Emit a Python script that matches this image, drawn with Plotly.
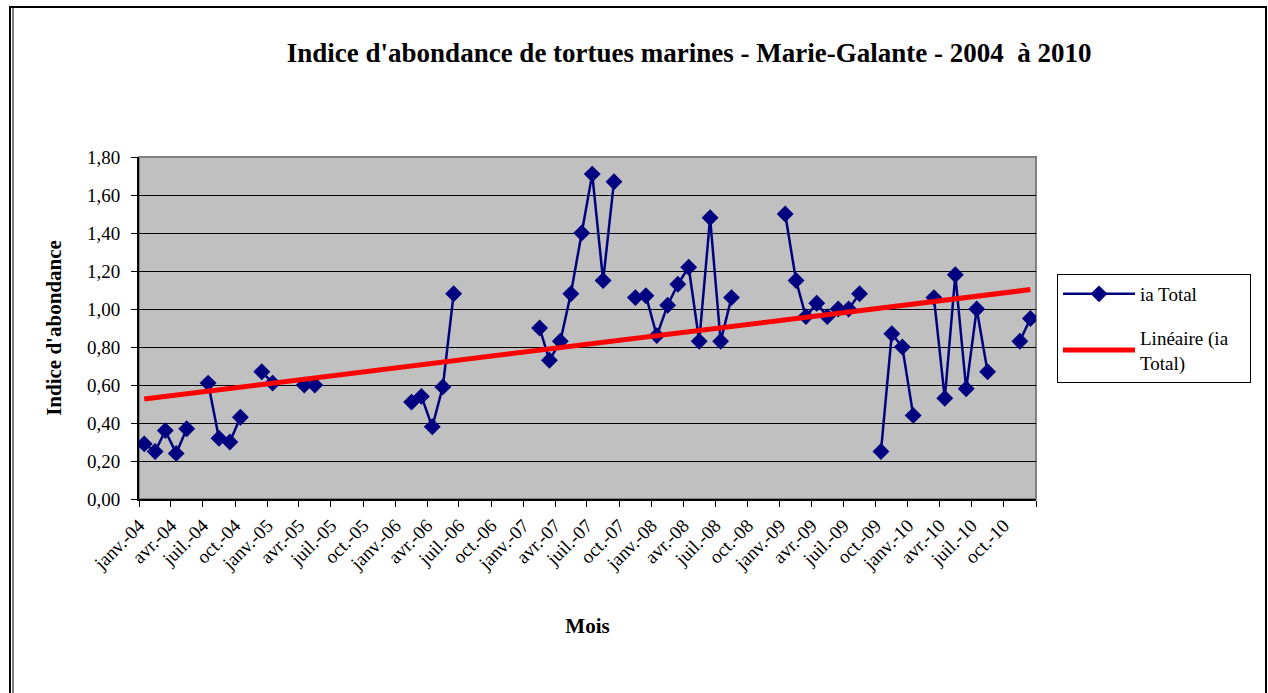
import numpy as np
import pandas as pd
import plotly.graph_objects as go

# ---- data ----
months = pd.date_range("2004-01-01", periods=84, freq="MS")  # janv.-04 .. déc.-10
ia_total = [
    0.29, 0.25, 0.36, 0.24, 0.37, None, 0.61, 0.32, 0.30, 0.43, None, 0.67,   # 2004
    0.61, None, None, 0.60, 0.60, None, None, None, None, None, None, None,   # 2005
    None, 0.51, 0.54, 0.38, 0.59, 1.08, None, None, None, None, None, None,   # 2006
    None, 0.90, 0.73, 0.83, 1.08, 1.40, 1.71, 1.15, 1.67, None, 1.06, 1.07,   # 2007
    0.86, 1.02, 1.13, 1.22, 0.83, 1.48, 0.83, 1.06, None, None, None, None,   # 2008
    1.50, 1.15, 0.96, 1.03, 0.96, 1.00, 1.00, 1.08, None, 0.25, 0.87, 0.80,   # 2009
    0.44, None, 1.06, 0.53, 1.18, 0.58, 1.00, 0.67, None, None, 0.83, 0.95,   # 2010
]
tick_dates = pd.date_range("2004-01-01", "2011-01-01", freq="3MS")
month_abbr = {1: "janv.", 4: "avr.", 7: "juil.", 10: "oct."}
tick_text = [f"{month_abbr[d.month]}-{d.strftime('%y')}" for d in tick_dates[:-1]] + [""]

title = "Indice d'abondance de tortues marines - Marie-Galante - 2004  à 2010"
y_title = "Indice d'abondance"
x_title = "Mois"
series_name = "ia Total"
trend_name = "Linéaire (ia<br>Total)"

# ---- positions ----
x_pts = months + pd.Timedelta(days=15)
y_arr = np.array([np.nan if v is None else v for v in ia_total], dtype=float)
mask = ~np.isnan(y_arr)
xnum = (x_pts - x_pts[0]).days.values.astype(float)
coef = np.polyfit(xnum[mask], y_arr[mask], 1)
first, last = np.where(mask)[0][[0, -1]]
trend_x = [x_pts[first], x_pts[last]]
trend_y = [np.polyval(coef, xnum[first]), np.polyval(coef, xnum[last])]

W, H = 1268, 693
L, R, T, B = 139, 232, 157, 194
pw, ph = W - L - R, H - T - B
def px(x): return (x - L) / pw
def py(y): return (H - B - y) / ph

FONT = "Liberation Serif"
NB = "\u00a0"

fig = go.Figure()
fig.add_trace(go.Scatter(
    x=x_pts, y=ia_total, mode="lines+markers", name=series_name + NB * 10,
    connectgaps=False, legendgroup="a",
    line=dict(color="#000080", width=2.5),
    marker=dict(symbol="diamond", size=13, color="#000080"),
))
fig.add_trace(go.Scatter(
    x=trend_x, y=trend_y, mode="lines", name=trend_name, legendgroup="b",
    line=dict(color="#FF0000", width=5),
))

shapes = [
    dict(type="rect", xref="paper", yref="paper", x0=0, x1=1, y0=0, y1=1,
         line=dict(color="#808080", width=2), layer="below"),
    dict(type="rect", xref="paper", yref="paper", x0=px(10), x1=px(1266),
         y0=py(720), y1=py(7), line=dict(color="black", width=2)),
    dict(type="line", xref="paper", yref="paper", x0=px(13), x1=px(13),
         y0=py(720), y1=py(8), line=dict(color="black", width=1)),
]

fig.update_layout(
    width=W, height=H,
    margin=dict(l=L, r=R, t=T, b=B, pad=0),
    paper_bgcolor="white", plot_bgcolor="#C0C0C0",
    separators=", ",
    font=dict(family=FONT, size=18, color="black"),
    title=dict(text=f"<b>{title}</b>", x=0.5435, xanchor="center", y=1 - 53 / H,
               yanchor="middle", font=dict(family=FONT, size=27, color="black")),
    showlegend=True,
    legend=dict(x=px(1057), xanchor="left", y=py(274), yanchor="top",
                bgcolor="white", bordercolor="black", borderwidth=1,
                font=dict(family=FONT, size=19), tracegroupgap=16,
                itemwidth=72),
    shapes=shapes,
)
fig.update_xaxes(
    type="date", range=[months[0], pd.Timestamp("2011-01-01")],
    tickmode="array", tickvals=tick_dates, ticktext=tick_text,
    tickangle=-45, ticks="outside", ticklen=6, tickcolor="black",
    showgrid=False, zeroline=False, showline=True, linecolor="black", linewidth=2,
    tickfont=dict(family=FONT, size=19),
    title=dict(text=f"<b>{x_title}</b>", font=dict(family=FONT, size=21), standoff=45),
)
fig.update_yaxes(
    range=[0, 1.8], dtick=0.2, tick0=0, tickformat=".2f",
    ticks="outside", ticklen=6, tickcolor="black", ticklabelstandoff=7,
    showgrid=True, gridcolor="black", gridwidth=1, zeroline=False,
    showline=True, linecolor="black", linewidth=2,
    tickfont=dict(family=FONT, size=19),
    title=dict(text=f"<b>{y_title}</b>", font=dict(family=FONT, size=21), standoff=20),
)

fig.write_html("out.html", config={"displayModeBar": False})
with open("out.html", "r", encoding="utf-8") as f:
    html = f.read()
html = html.replace("<head>", "<head><style>html,body{margin:0;padding:0;overflow:hidden}</style>", 1)
with open("out.html", "w", encoding="utf-8") as f:
    f.write(html)
